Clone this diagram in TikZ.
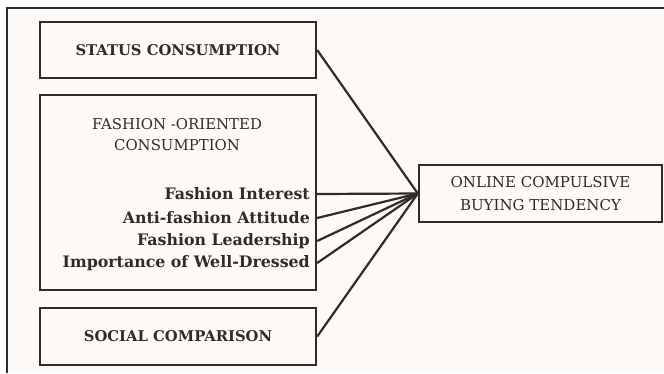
\documentclass[tikz,border=0pt]{standalone}
\usepackage{fontspec}
\setmainfont{DejaVu Serif}
\usetikzlibrary{positioning}
\definecolor{paper}{HTML}{FDF9F6}
\definecolor{ink}{HTML}{2E2C2B}

\begin{document}
\begin{tikzpicture}[
    x=1pt, y=-1pt,
    font=\fontsize{15}{17}\selectfont,
    text=ink,
    box/.style={draw=ink, line width=2.4pt, fill=paper, inner sep=0pt, align=center},
    head/.style={font=\fontsize{14.8}{17}\selectfont\bfseries},
    item/.style={font=\fontsize{15.8}{18}\selectfont\bfseries, inner sep=0pt, anchor=east},
    link/.style={draw=ink, line width=2.2pt}
]
\useasboundingbox (0,0) rectangle (664,373);

% Frame
\fill[paper] (7,8) rectangle (664,373);
\draw[ink, line width=2.2pt] (7,373) -- (7,8) -- (664,8);

% Predictors
\node[box, head, minimum width=276pt, minimum height=56pt] (status) at (178,50) {STATUS CONSUMPTION};
\node[box, minimum width=276pt, minimum height=195pt] (fashion) at (178,192.5) {};
\node[align=center, font=\fontsize{14.9}{21}\selectfont, inner sep=0pt] (fashionlabel) at (177,135) {FASHION -ORIENTED\\CONSUMPTION};
\node[item] (interest) at (310,194) {Fashion Interest};
\node[item] (antifashion) at (310,218) {Anti-fashion Attitude};
\node[item] (leadership) at (310,241) {Fashion Leadership};
\node[item] (welldressed) at (310,263) {Importance of Well-Dressed};
\node[box, head, minimum width=276pt, minimum height=57pt] (social) at (178,336.5) {SOCIAL COMPARISON};

% Outcome
\node[box, minimum width=243pt, minimum height=57pt, font=\fontsize{15}{23}\selectfont] (outcome) at (540.5,193.5) {ONLINE COMPULSIVE\\BUYING TENDENCY};

% Links
\draw[link] (status.east) -- (outcome.west);
\draw[link] (fashion.east |- interest.east) -- (outcome.west);
\draw[link] (fashion.east |- antifashion.east) -- (outcome.west);
\draw[link] (fashion.east |- leadership.east) -- (outcome.west);
\draw[link] (fashion.east |- welldressed.east) -- (outcome.west);
\draw[link] (social.east) -- (outcome.west);

\end{tikzpicture}
\end{document}
